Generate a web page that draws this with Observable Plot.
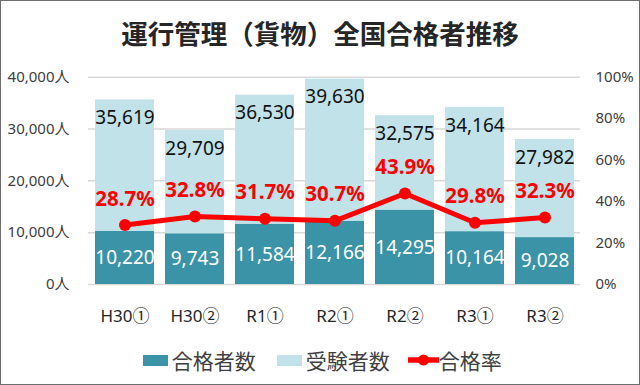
<!DOCTYPE html>
<html><head><meta charset="utf-8">
<script src="https://cdn.jsdelivr.net/npm/d3@7"></script>
<script src="https://cdn.jsdelivr.net/npm/@observablehq/plot@0.6"></script>
<style>
body{margin:0;background:#fff;}
#wrap{width:640px;height:385px;box-sizing:border-box;border:1px solid #6e6e6e;position:relative;overflow:hidden;font-family:"Noto Sans","Noto Sans CJK JP",sans-serif;}
#title{position:absolute;top:0;left:0;width:638px;height:64px;line-height:64px;text-align:center;font-family:"Noto Sans CJK JP",sans-serif;font-size:26.5px;font-weight:700;color:#262626;}
#chart{position:absolute;top:60px;left:0;}
#legend{position:absolute;top:346px;left:141.7px;height:26px;display:flex;align-items:center;font-family:"Noto Sans CJK JP",sans-serif;font-size:21px;color:#404040;white-space:nowrap;}
.li{display:flex;align-items:center;}
.sw{width:25px;height:11px;margin-right:4px;}
</style></head>
<body><div id="wrap"><div id="title">運行管理（貨物）全国合格者推移</div><div id="chart"></div><div id="legend"></div></div>
<script>
const categories = ["H30①","H30②","R1①","R2①","R2②","R3①","R3②"];
const examinees = [35619,29709,36530,39630,32575,34164,27982];
const passers = [10220,9743,11584,12166,14295,10164,9028];
const passRate = [28.7,32.8,31.7,30.7,43.9,29.8,32.3];
const leftTicks = [0,10000,20000,30000,40000];
const rightTicks = [0,20,40,60,80,100];

const colDark = "#3A93A7", colLight = "#C1E2E9", colRed = "#FF0000";
const data = categories.map((c,i)=>({c, exam:examinees[i], pass:passers[i], rate:passRate[i]}));
const fmt = d3.format(",");
const rateToY = r => r*400; // 100% maps to 40,000 on the shared scale
const ff = '"Noto Sans","Noto Sans CJK JP",sans-serif';

const plot = Plot.plot({
  width:638, height:270,
  marginLeft:87, marginRight:59, marginTop:15.7, marginBottom:47,
  style:{fontFamily:ff, background:"transparent", overflow:"visible"},
  x:{domain:categories, paddingInner:0.162, paddingOuter:0.075, label:null},
  y:{domain:[0,40000], label:null},
  marks:[
    Plot.ruleY(leftTicks,{stroke:"#d9d9d9", strokeWidth:1.5}),
    Plot.axisY(leftTicks,{anchor:"left", tickSize:0, tickPadding:19, tickFormat:d=>fmt(d)+"人", fontSize:15, fill:"#404040", label:null}),
    Plot.axisY(rightTicks.map(rateToY),{anchor:"right", tickSize:0, tickPadding:15, tickFormat:d=>(d/400)+"%", fontSize:15, fill:"#404040", label:null}),
    Plot.axisX({tickSize:0, tickPadding:25, fontSize:17, fill:"#262626", label:null, style:{letterSpacing:"1px"}}),
    Plot.barY(data,{x:"c", y:"exam", fill:colLight}),
    Plot.barY(data,{x:"c", y:"pass", fill:colDark}),
    Plot.text(data,{x:"c", y:"exam", text:d=>fmt(d.exam), dy:18, fontSize:19, fill:"#111"}),
    Plot.text(data,{x:"c", y:d=>d.pass/2, text:d=>fmt(d.pass), fontSize:19, fill:"#fff"}),
    Plot.line(data,{x:"c", y:d=>rateToY(d.rate), stroke:colRed, strokeWidth:5}),
    Plot.dot(data,{x:"c", y:d=>rateToY(d.rate), r:6, fill:colRed}),
    Plot.text(data,{x:"c", y:d=>rateToY(d.rate), text:d=>d.rate.toFixed(1)+"%", dy:-26, fontSize:20.5, fontWeight:"bold", fill:colRed})
  ]
});
document.getElementById("chart").appendChild(plot);

const legend = document.getElementById("legend");
legend.innerHTML = `
<div class="li"><div class="sw" style="background:${colDark}"></div>合格者数</div>
<div class="li" style="margin-left:21px"><div class="sw" style="background:${colLight}"></div>受験者数</div>
<div class="li" style="margin-left:18px"><svg width="31" height="14"><line x1="0" y1="7" x2="31" y2="7" stroke="${colRed}" stroke-width="5.5"/><circle cx="15.5" cy="7" r="5.5" fill="${colRed}"/></svg>合格率</div>`;
</script></body></html>
